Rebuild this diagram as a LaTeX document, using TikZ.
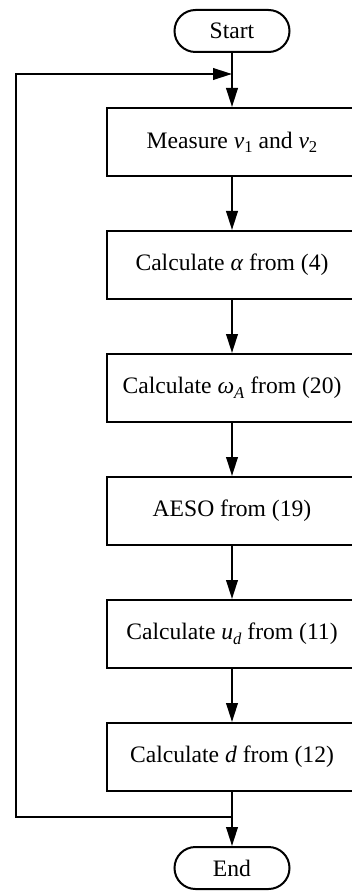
\documentclass[tikz,border=0pt]{standalone}
\usepackage{fontspec}
\setmainfont{Liberation Serif}
\usetikzlibrary{arrows.meta,positioning}

\newcommand{\lowidx}[1]{\raisebox{-0.4ex}{\fontsize{8.3}{9}\selectfont #1}}

\begin{document}
\begin{tikzpicture}[>={Triangle[length=9.5pt,width=5.8pt]},line width=1pt,node distance=61.5pt,on grid,
	term/.style={draw,rounded corners=10.5pt,minimum width=57.5pt,minimum height=21pt,inner sep=0pt,font=\fontsize{11.8}{14}\selectfont},
	proc/.style={draw,minimum width=125pt,minimum height=34pt,inner sep=0pt,font=\fontsize{11.8}{14}\selectfont}]
	\useasboundingbox (0,0) rectangle (176pt,-446.5pt);
	\node[term] (start) at (116pt,-15.5pt) {Start};
	\node[proc] (meas) [below=55.5pt of start] {Measure \textit{v}\lowidx{1} and \textit{v}\lowidx{2}};
	\node[proc] (alpha) [below=of meas] {Calculate \textit{α} from (4)};
	\node[proc] (omega) [below=of alpha] {Calculate \textit{ω}\lowidx{\textit{A}} from (20)};
	\node[proc] (aeso) [below=of omega] {AESO from (19)};
	\node[proc] (ud) [below=of aeso] {Calculate \textit{u}\lowidx{\textit{d}} from (11)};
	\node[proc] (dist) [below=of ud] {Calculate \textit{d} from (12)};
	\node[term] (end) [below=55.5pt of dist] {End};
	\coordinate (jtop) at (116pt,-37pt);
	\coordinate (jbot) at (116pt,-408.5pt);
	\coordinate (ltop) at (8pt,-37pt);
	\path[->]
	(start) edge (meas)
	(meas) edge (alpha)
	(alpha) edge (omega)
	(omega) edge (aeso)
	(aeso) edge (ud)
	(ud) edge (dist)
	(dist) edge (end);
	\draw[->] (jbot) -| (ltop) -- (jtop);
\end{tikzpicture}
\end{document}
